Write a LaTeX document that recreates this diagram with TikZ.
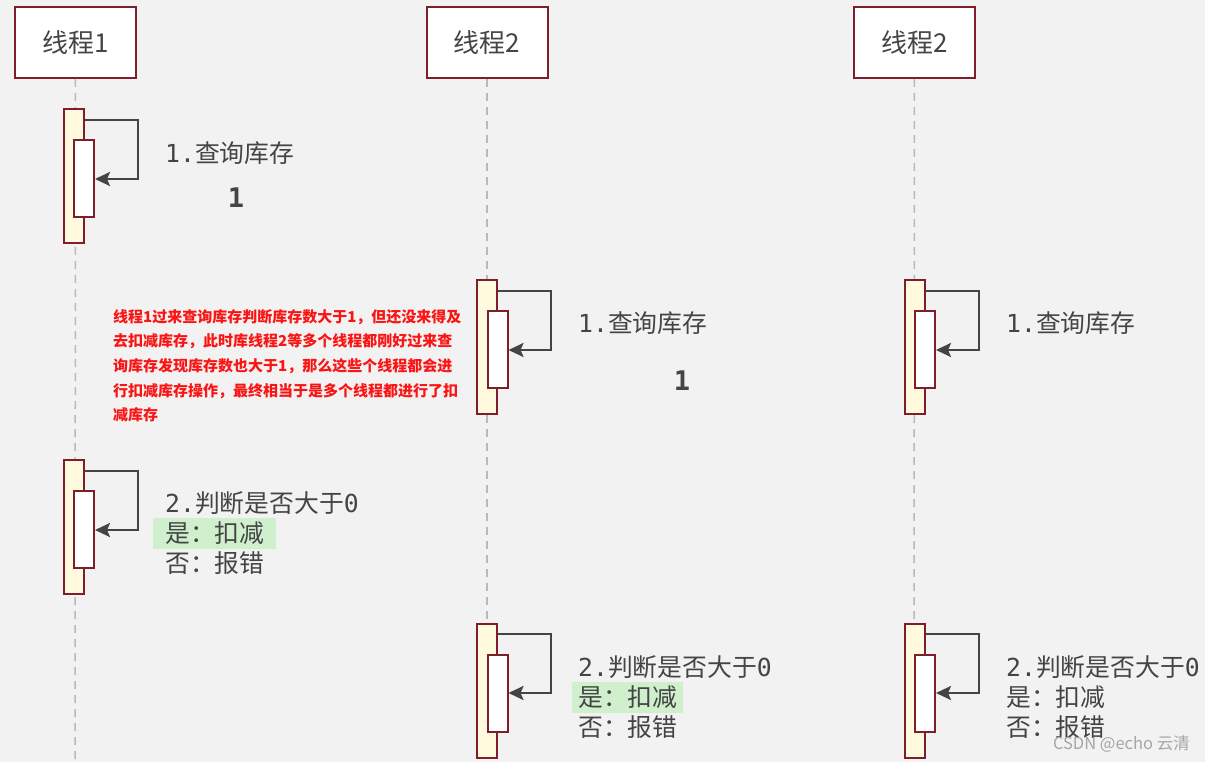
\documentclass[tikz,border=0pt]{standalone}
\usepackage{fontspec}
\setmainfont{Noto Sans CJK SC}
\newfontfamily\cjk{Noto Sans CJK SC}
\newfontfamily\mono{DejaVu Sans Mono}
\usetikzlibrary{arrows.meta}
\definecolor{bgcol}{RGB}{242,242,242}
\definecolor{edgecol}{RGB}{125,30,42}
\definecolor{actcol}{RGB}{255,249,222}
\definecolor{inkcol}{RGB}{68,68,68}
\definecolor{lifecol}{RGB}{185,185,185}
\definecolor{hlcol}{RGB}{208,240,205}
\definecolor{notecol}{RGB}{250,20,20}
\begin{document}
\begin{tikzpicture}[x=1pt,y=-1pt,
  head/.style={draw=edgecol,line width=2pt,fill=white,minimum width=121pt,minimum height=71pt,inner sep=0pt,text=inkcol,font=\fontsize{26}{30}\selectfont},
  life/.style={lifecol,line width=1.5pt,dash pattern=on 8pt off 6pt},
  act/.style={draw=edgecol,line width=2pt,fill=actcol,minimum width=20pt,inner sep=0pt},
  sub/.style={draw=edgecol,line width=2pt,fill=white,minimum width=20pt,inner sep=0pt},
  call/.style={inkcol,line width=2.5pt,-{Stealth[length=15pt,width=14pt,inset=3pt]}},
  lbl/.style={anchor=west,inner sep=0pt,text=inkcol,font=\fontsize{24.8}{28}\selectfont},
  hilite/.style={lbl,fill=hlcol,minimum height=31pt},
  cnt/.style={inner sep=0pt,text=inkcol,font=\fontsize{27}{30}\selectfont\mono\bfseries},
  note/.style={anchor=north west,inner sep=0pt,align=left,text=notecol,font=\fontsize{15}{24.7}\selectfont\bfseries}]
\fill[bgcol] (0,0) rectangle (1205,762);
\useasboundingbox (0,0) rectangle (1205,762);
\clip (0,0) rectangle (1205,762);
\node[head] (h1) at (75.5,42.5) {线程1};
\node[head] (h2) at (487,42.5) {线程2};
\node[head] (h3) at (914.5,42.5) {线程2};
\coordinate (e1) at (75,770);
\coordinate (e2) at (487,770);
\coordinate (e3) at (914,770);
\draw[life] (h1) -- (e1);
\draw[life] (h2) -- (e2);
\draw[life] (h3) -- (e3);
\node[act,minimum height=134pt] (a1) at (74,176) {};
\node[sub,minimum height=77pt] (b1) at (84,178.5) {};
\node[act,minimum height=134pt] (a2) at (487,347) {};
\node[sub,minimum height=77pt] (b2) at (497.5,349) {};
\node[act,minimum height=134pt] (a3) at (914.5,347) {};
\node[sub,minimum height=77pt] (b3) at (925,349) {};
\node[act,minimum height=134pt] (a4) at (74,527) {};
\node[sub,minimum height=77pt] (b4) at (84,529.5) {};
\node[act,minimum height=134pt] (a5) at (487,691) {};
\node[sub,minimum height=77pt] (b5) at (497.5,693.5) {};
\node[act,minimum height=134pt] (a6) at (914.5,691) {};
\node[sub,minimum height=77pt] (b6) at (925,693.5) {};
\coordinate (c1) at (138,120);
\coordinate (d1) at (138,179);
\coordinate (c2) at (551,291);
\coordinate (d2) at (551,350);
\coordinate (c3) at (979,291);
\coordinate (d3) at (979,350);
\coordinate (c4) at (138,471);
\coordinate (d4) at (138,530);
\coordinate (c5) at (551,634);
\coordinate (d5) at (551,693);
\coordinate (c6) at (979,634);
\coordinate (d6) at (979,693);
\draw[call] (a1.east |- c1) -- (c1) -- (d1) -- (b1.east |- d1);
\draw[call] (a2.east |- c2) -- (c2) -- (d2) -- (b2.east |- d2);
\draw[call] (a3.east |- c3) -- (c3) -- (d3) -- (b3.east |- d3);
\draw[call] (a4.east |- c4) -- (c4) -- (d4) -- (b4.east |- d4);
\draw[call] (a5.east |- c5) -- (c5) -- (d5) -- (b5.east |- d5);
\draw[call] (a6.east |- c6) -- (c6) -- (d6) -- (b6.east |- d6);
\node[lbl] (t1) at (165,153) {\mono 1.\cjk 查询库存};
\node[lbl] (t2) at (578,323) {\mono 1.\cjk 查询库存};
\node[lbl] (t3) at (1006,323) {\mono 1.\cjk 查询库存};
\node[cnt] (k1) at (236,198) {1};
\node[cnt] (k2) at (682,381) {1};
\node[lbl] (q1) at (165,503) {\mono 2.\cjk 判断是否大于\mono 0};
\node[hilite,inner xsep=12pt] (y1) at (153,533) {是：扣减};
\node[lbl] (n1) at (165,563) {否：报错};
\node[lbl] (q2) at (578,667) {\mono 2.\cjk 判断是否大于\mono 0};
\node[hilite,inner xsep=6pt] (y2) at (572,697) {是：扣减};
\node[lbl] (n2) at (578,727) {否：报错};
\node[lbl] (q3) at (1006,667) {\mono 2.\cjk 判断是否大于\mono 0};
\node[lbl] (y3) at (1006,697) {是：扣减};
\node[lbl] (n3) at (1006,727) {否：报错};
\node[note] (m1) at (113,309) {线程1过来查询库存判断库存数大于1，但还没来得及\\去扣减库存，此时库线程2等多个线程都刚好过来查\\询库存发现库存数也大于1，那么这些个线程都会进\\行扣减库存操作，最终相当于是多个线程都进行了扣\\减库存};
\node[anchor=east,inner sep=0pt,text=black!35,font=\fontsize{16.5}{20}\selectfont] (w1) at (1190,744) {CSDN @echo 云清};
\end{tikzpicture}
\end{document}
